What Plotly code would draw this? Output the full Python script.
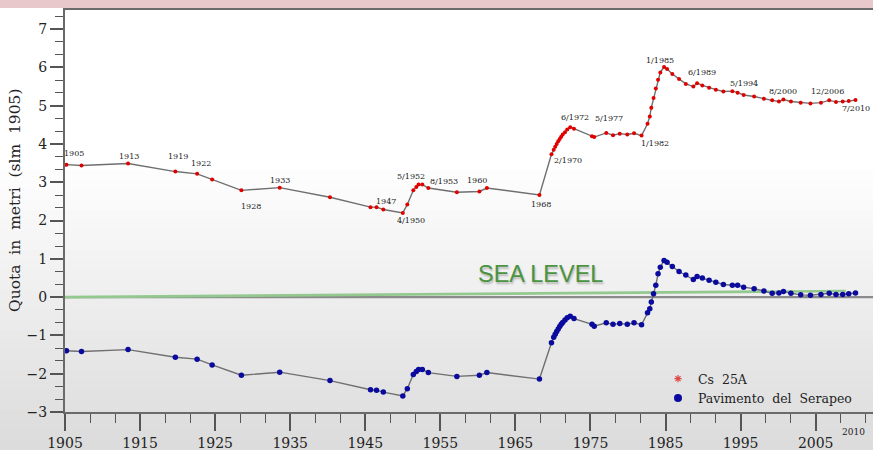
import plotly.graph_objects as go

# ---------------- data ----------------
years = [1905.2, 1907.2, 1913.4, 1919.7, 1922.6, 1924.6, 1928.5, 1933.6, 1940.3,
         1945.7, 1946.5, 1947.4, 1950.0, 1950.6, 1951.4, 1951.8, 1952.1, 1952.6,
         1953.4, 1957.2, 1960.2, 1961.2, 1968.2,
         1969.8, 1970.1, 1970.3, 1970.5, 1970.7, 1970.9, 1971.1, 1971.3, 1971.6,
         1971.9, 1972.3, 1972.8, 1975.2, 1975.5,
         1977.1, 1978.0, 1978.9, 1979.9, 1980.8, 1981.8,
         1982.6, 1982.9, 1983.1, 1983.4, 1983.7, 1984.0, 1984.3, 1984.8,
         1985.2, 1985.9, 1986.8, 1987.7, 1988.7, 1989.2, 1989.9, 1990.8, 1991.7,
         1992.7, 1993.9, 1994.6, 1995.4, 1996.8, 1998.1, 1999.2, 2000.1, 2000.7,
         2001.7, 2003.0, 2004.3, 2005.7, 2006.8, 2007.7, 2008.6, 2009.4, 2010.3]

cs25a = [3.46, 3.44, 3.49, 3.28, 3.22, 3.07, 2.79, 2.86, 2.61,
         2.35, 2.35, 2.29, 2.20, 2.42, 2.79, 2.88, 2.94, 2.94,
         2.85, 2.74, 2.76, 2.85, 2.67,
         3.73, 3.85, 3.93, 4.00, 4.07, 4.13, 4.19, 4.25, 4.31,
         4.38, 4.44, 4.40, 4.20, 4.18,
         4.29, 4.23, 4.27, 4.25, 4.28, 4.22,
         4.53, 4.72, 4.95, 5.20, 5.45, 5.68, 5.87, 6.01,
         5.96, 5.83, 5.70, 5.57, 5.50, 5.59, 5.53, 5.47, 5.42,
         5.37, 5.38, 5.34, 5.28, 5.24, 5.18, 5.14, 5.11, 5.16,
         5.11, 5.08, 5.06, 5.08, 5.14, 5.10, 5.11, 5.12, 5.15]

serapeo = [-1.40, -1.42, -1.37, -1.57, -1.62, -1.77, -2.04, -1.96, -2.18,
           -2.42, -2.43, -2.48, -2.58, -2.39, -2.02, -1.94, -1.89, -1.89,
           -1.97, -2.07, -2.04, -1.97, -2.14,
           -1.19, -1.05, -0.97, -0.90, -0.83, -0.77, -0.71, -0.66, -0.60,
           -0.54, -0.50, -0.56, -0.71, -0.76,
           -0.67, -0.71, -0.69, -0.71, -0.67, -0.72,
           -0.41, -0.30, -0.13, 0.09, 0.31, 0.61, 0.78, 0.96,
           0.91, 0.80, 0.67, 0.58, 0.46, 0.54, 0.50, 0.44, 0.39,
           0.33, 0.31, 0.31, 0.26, 0.22, 0.16, 0.10, 0.11, 0.15,
           0.10, 0.06, 0.05, 0.07, 0.10, 0.07, 0.07, 0.09, 0.11]

label_texts = ["1905", "1913", "1919", "1922", "1928", "1933", "1947", "4/1950",
               "5/1952", "8/1953", "1960", "1968", "2/1970", "6/1972", "5/1977",
               "1/1982", "1/1985", "6/1989", "5/1994", "8/2000", "12/2006"]
label_x = [1906.2, 1913.5, 1920.0, 1923.1, 1929.8, 1933.6, 1947.7, 1951.1,
           1951.1, 1955.5, 1959.9, 1968.4, 1972.0, 1972.9, 1977.5,
           1983.6, 1984.2, 1989.9, 1995.4, 2000.6, 2006.6]
label_y = [3.75, 3.68, 3.68, 3.49, 2.37, 3.05, 2.51, 1.99,
           3.15, 3.02, 3.05, 2.41, 3.57, 4.70, 4.66,
           4.01, 6.18, 5.86, 5.58, 5.37, 5.37]
last_label = ("7/2010", 2012.5, 4.92)

sea_x = [1905, 2009]
sea_y = [0.0, 0.16]

x_ticks = [1905, 1915, 1925, 1935, 1945, 1955, 1965, 1975, 1985, 1995, 2005]
y_ticks = [-3, -2, -1, 0, 1, 2, 3, 4, 5, 6, 7]

# ---------------- geometry helpers ----------------
W, H = 873, 450
ML, MR, MT, MB = 65, 0, 10, 38
PW = W - ML - MR
PH = H - MT - MB
def py(pix):  # pixel row -> paper y
    return (H - MB - pix) / PH
def px(pix):  # pixel column -> paper x
    return (pix - ML) / PW

serif = "DejaVu Serif"
line_col = "#6f6f6f"
red = "#e00000"
blue = "#0a0a9e"

fig = go.Figure()

fig.add_trace(go.Scatter(
    x=years, y=cs25a, mode="lines+markers", showlegend=False,
    line=dict(color=line_col, width=1.4),
    marker=dict(color=red, size=4), hoverinfo="x+y"))
fig.add_trace(go.Scatter(
    x=years, y=serapeo, mode="lines+markers", showlegend=False,
    line=dict(color=line_col, width=1.4),
    marker=dict(color=blue, size=5.5), hoverinfo="x+y"))

# legend-only entries
fig.add_trace(go.Scatter(
    x=[None], y=[None], mode="markers", name="Cs  25A",
    marker=dict(symbol="asterisk-open", size=6, color="#e04848",
                line=dict(color="#e04848", width=1.2))))
fig.add_trace(go.Scatter(
    x=[None], y=[None], mode="markers", name="Pavimento  del  Serapeo",
    marker=dict(symbol="circle", size=8, color=blue)))

shapes = []
# background gradient (photo of a screen)
top_pix, bot_pix = 170, 450
n = 28
for i in range(n):
    p0 = top_pix + (bot_pix - top_pix) * i / n
    p1 = top_pix + (bot_pix - top_pix) * (i + 1) / n
    g = int(round(254 - (254 - 219) * (i + 0.5) / n))
    shapes.append(dict(type="rect", xref="paper", yref="paper", layer="below",
                       x0=-0.1, x1=1.1, y0=py(p1), y1=py(p0),
                       fillcolor=f"rgb({g},{g},{g})", line=dict(width=0)))
# pink band at the very top
shapes.append(dict(type="rect", xref="paper", yref="paper", layer="above",
                   x0=-0.1, x1=1.1, y0=py(8), y1=py(-2),
                   fillcolor="#e8c8cb", line=dict(width=0)))
# zero line and sea level line
shapes.append(dict(type="line", xref="x", yref="y", layer="below",
                   x0=1905, x1=2013, y0=0, y1=0,
                   line=dict(color="#8a8a8a", width=2.2)))
shapes.append(dict(type="line", xref="x", yref="y", layer="below",
                   x0=sea_x[0], x1=sea_x[1], y0=sea_y[0], y1=sea_y[1],
                   line=dict(color="#93c98f", width=2.6)))

annotations = []
for t, xv, yv in zip(label_texts, label_x, label_y):
    annotations.append(dict(x=xv, y=yv, xref="x", yref="y", text=t, showarrow=False,
                            font=dict(family=serif, size=8, color="#1a1a1a")))
annotations.append(dict(x=last_label[1], y=last_label[2], xref="x", yref="y",
                        text=last_label[0], showarrow=False, xanchor="right",
                        font=dict(family=serif, size=8, color="#1a1a1a")))
annotations.append(dict(x=2010, y=py(432), xref="x", yref="paper", text="2010",
                        showarrow=False, yanchor="middle", xanchor="center",
                        font=dict(family=serif, size=9, color="#222")))
annotations.append(dict(x=px(540), y=py(274), xref="paper", yref="paper",
                        text="SEA LEVEL", showarrow=False, yanchor="middle", xanchor="center",
                        font=dict(family="Liberation Sans", size=23.5, color="#4a9340",
                                  shadow="1px 2px 2px rgba(0,0,0,0.25)")))
annotations.append(dict(x=px(15), y=py(201), xref="paper", yref="paper",
                        text="Quota  in  metri  (slm  1905)", showarrow=False, textangle=-90,
                        yanchor="middle", xanchor="center",
                        font=dict(family=serif, size=15.5, color="#222")))

fig.update_layout(
    width=W, height=H,
    margin=dict(l=ML, r=MR, t=MT, b=MB, autoexpand=False),
    paper_bgcolor="white", plot_bgcolor="rgba(0,0,0,0)",
    shapes=shapes, annotations=annotations,
    showlegend=True,
    legend=dict(x=px(658), y=py(364), xanchor="left", yanchor="top",
                bgcolor="rgba(0,0,0,0)", font=dict(family=serif, size=12.5, color="#222"),
                itemwidth=30, tracegroupgap=0),
    xaxis=dict(range=[1905, 1905 + PW / 7.507], tickvals=x_ticks,
               showgrid=False, zeroline=False, showline=True, mirror=True,
               linecolor="#6a6a6a", linewidth=2, ticks="outside", ticklen=17,
               tickwidth=1.6, tickcolor="#555",
               minor=dict(dtick=10 / 3, tick0=1905, ticks="outside", ticklen=9,
                          tickwidth=1.4, tickcolor="#555"),
               tickfont=dict(family=serif, size=14, color="#222")),
    yaxis=dict(range=[-3, 7.5], tickvals=y_ticks, showgrid=False, zeroline=False,
               showline=True, linecolor="#6a6a6a", linewidth=2,
               ticks="outside", ticklen=13, tickwidth=1.6, tickcolor="#555",
               minor=dict(dtick=1 / 3, tick0=0, ticks="outside", ticklen=8,
                          tickwidth=1.4, tickcolor="#555"),
               tickfont=dict(family=serif, size=14, color="#222")),
)

fig.write_html("out.html", config={"displayModeBar": False},
               post_script="document.body.style.margin='0';document.body.style.overflow='hidden';")
